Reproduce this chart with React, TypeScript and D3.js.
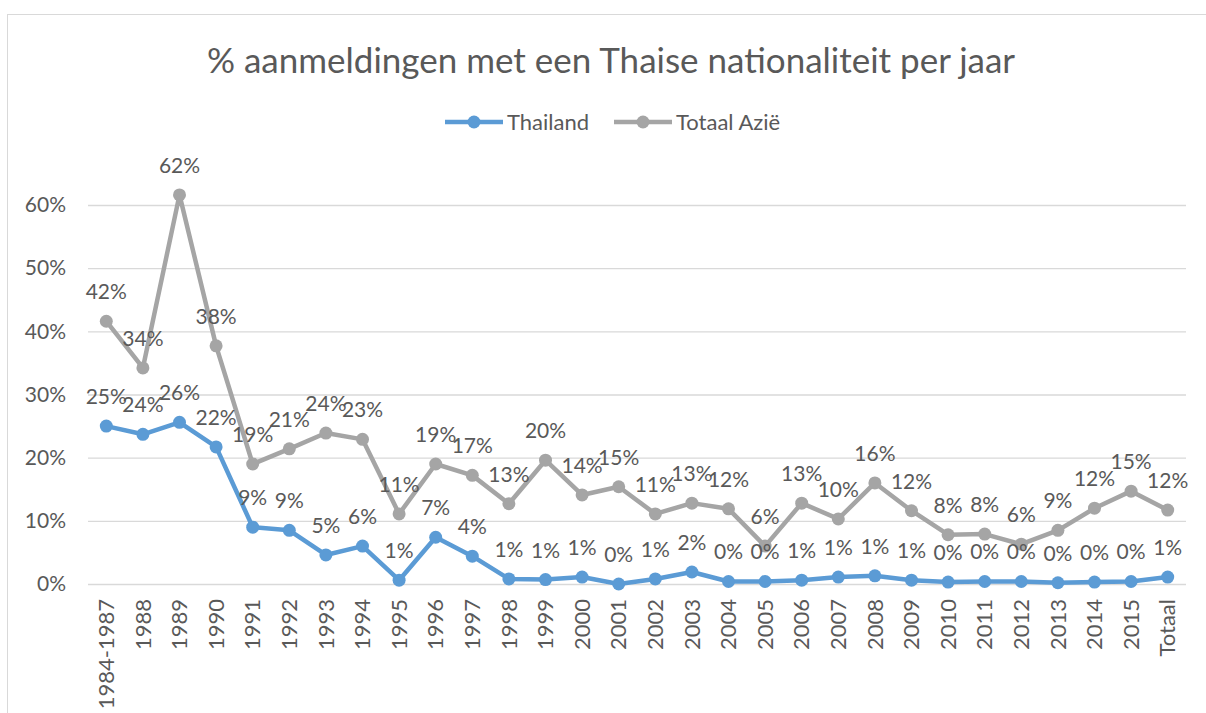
import { useEffect, useRef } from 'react'
import * as d3 from 'd3'

const categories = [
  '1984-1987', '1988', '1989', '1990', '1991', '1992', '1993', '1994', '1995', '1996',
  '1997', '1998', '1999', '2000', '2001', '2002', '2003', '2004', '2005', '2006',
  '2007', '2008', '2009', '2010', '2011', '2012', '2013', '2014', '2015', 'Totaal',
]

const thailand = [
  25.0, 23.7, 25.6, 21.7, 9.0, 8.5, 4.6, 6.0, 0.6, 7.4,
  4.4, 0.8, 0.7, 1.1, 0.0, 0.8, 1.9, 0.4, 0.4, 0.6,
  1.1, 1.3, 0.6, 0.3, 0.4, 0.4, 0.2, 0.3, 0.4, 1.1,
]

const totaalAzie = [
  41.6, 34.2, 61.6, 37.7, 19.0, 21.4, 23.9, 22.9, 11.1, 19.0,
  17.2, 12.7, 19.6, 14.1, 15.4, 11.1, 12.8, 11.9, 6.0, 12.8,
  10.3, 16.0, 11.6, 7.8, 7.9, 6.3, 8.5, 12.0, 14.7, 11.7,
]

const yTicks = [0, 10, 20, 30, 40, 50, 60]

const SERIES = [
  { name: 'Thailand', values: thailand, color: '#5B9BD5' },
  { name: 'Totaal Azië', values: totaalAzie, color: '#A5A5A5' },
]

const FONT = 'Lato, "Open Sans", sans-serif'
const TEXT = '#595959'

export default function App() {
  const svgRef = useRef<SVGSVGElement>(null)

  useEffect(() => {
    if (!svgRef.current) return
    const svg = d3.select(svgRef.current)
    svg.selectAll('*').remove()

    const W = 1206
    const H = 713
    const margin = { left: 88, right: 20, top: 205, bottom: 129 }

    // chart frame
    svg.append('rect').attr('x', 7.5).attr('y', 14.5).attr('width', W).attr('height', H)
      .attr('fill', '#fff').attr('stroke', '#D9D9D9')

    const x = d3.scaleBand().domain(categories).range([margin.left, W - margin.right])
    const y = d3.scaleLinear().domain([0, 60]).range([H - margin.bottom, margin.top])
    const cx = (c: string) => (x(c) ?? 0) + x.bandwidth() / 2

    // Title
    svg.append('text').attr('x', 611).attr('y', 73).attr('text-anchor', 'middle')
      .attr('fill', TEXT).attr('font-family', FONT).attr('font-size', '35px')
      .text('% aanmeldingen met een Thaise nationaliteit per jaar')

    // Grid + y axis
    const yAxis = d3.axisLeft(y).tickValues(yTicks).tickFormat(d => `${d}%`)
      .tickSize(-(W - margin.left - margin.right)).tickPadding(22)
    const ga = svg.append('g').attr('transform', `translate(${margin.left},0)`).call(yAxis)
    ga.select('.domain').remove()
    ga.selectAll('line').attr('stroke', '#D9D9D9').attr('stroke-width', 1.3)
    ga.selectAll('text').attr('fill', TEXT).attr('font-family', FONT).attr('font-size', '21px')

    // x axis labels (rotated)
    const xAxis = d3.axisBottom(x).tickSize(0).tickPadding(0)
    const gx = svg.append('g').attr('transform', `translate(0,${y(0)})`).call(xAxis)
    gx.select('.domain').remove()
    gx.selectAll('text')
      .attr('transform', 'rotate(-90)')
      .attr('x', -15).attr('y', 0).attr('dy', '0.35em')
      .attr('text-anchor', 'end')
      .attr('fill', TEXT).attr('font-family', FONT).attr('font-size', '22px')

    const line = d3.line<number>().x((_, i) => cx(categories[i])).y(d => y(d))

    SERIES.slice().reverse().forEach(s => {
      svg.append('path').datum(s.values).attr('d', line)
        .attr('fill', 'none').attr('stroke', s.color).attr('stroke-width', 4.5)
        .attr('stroke-linejoin', 'round')
      svg.append('g').selectAll('circle').data(s.values).join('circle')
        .attr('cx', (_, i) => cx(categories[i])).attr('cy', d => y(d))
        .attr('r', 6.5).attr('fill', s.color)
    })

    SERIES.forEach(s => {
      svg.append('g').selectAll('text').data(s.values).join('text')
        .attr('x', (_, i) => cx(categories[i])).attr('y', d => y(d) - 22)
        .attr('text-anchor', 'middle').attr('fill', TEXT)
        .attr('font-family', FONT).attr('font-size', '21px')
        .text(d => `${Math.round(d)}%`)
    })

    // Legend
    const legend = [
      { s: SERIES[0], x0: 445, tx: 507 },
      { s: SERIES[1], x0: 614, tx: 676 },
    ]
    legend.forEach(({ s, x0, tx }) => {
      const g = svg.append('g')
      g.append('line').attr('x1', x0).attr('x2', x0 + 58).attr('y1', 122).attr('y2', 122)
        .attr('stroke', s.color).attr('stroke-width', 4.5)
      g.append('circle').attr('cx', x0 + 29).attr('cy', 122).attr('r', 6.5).attr('fill', s.color)
      g.append('text').attr('x', tx).attr('y', 130).attr('fill', TEXT)
        .attr('font-family', FONT).attr('font-size', '22px').text(s.name)
    })
  }, [])

  return (
    <svg ref={svgRef} width={1206} height={713}
      style={{ position: 'absolute', left: 0, top: 0, display: 'block' }} />
  )
}
